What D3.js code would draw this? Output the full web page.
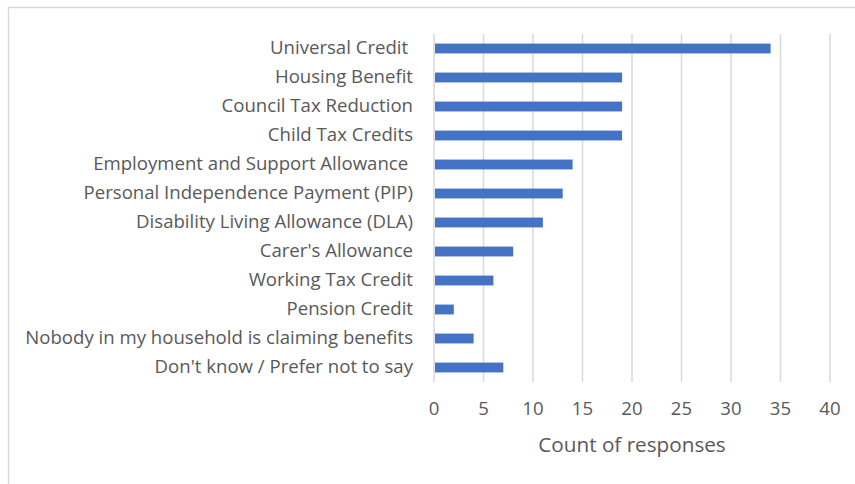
<!DOCTYPE html>
<html>
<head>
<meta charset="utf-8">
<script src="https://cdn.jsdelivr.net/npm/d3@7"></script>
<style>
  html, body { margin: 0; padding: 0; background: #fff; }
  svg { display: block; }
  text { font-family: "Open Sans", sans-serif; fill: #595959; }
</style>
</head>
<body>
<svg id="chart" width="855" height="484"></svg>
<script>
// Benefits claimed in the household (count of responses)
const categories = [
  "Universal Credit ",
  "Housing Benefit",
  "Council Tax Reduction",
  "Child Tax Credits",
  "Employment and Support Allowance ",
  "Personal Independence Payment (PIP)",
  "Disability Living Allowance (DLA)",
  "Carer's Allowance",
  "Working Tax Credit",
  "Pension Credit",
  "Nobody in my household is claiming benefits",
  "Don't know / Prefer not to say"
];
const counts = [34, 19, 19, 19, 14, 13, 11, 8, 6, 2, 4, 7];
const tickValues = [0, 5, 10, 15, 20, 25, 30, 35, 40];
const axisTitle = "Count of responses";

const svg = d3.select("#chart");

// chart frame
svg.append("rect")
  .attr("x", 8.5).attr("y", 7.5)
  .attr("width", 900).attr("height", 600)
  .attr("fill", "none").attr("stroke", "#d9d9d9").attr("stroke-width", 1.5);

const plot = { left: 434, right: 830, top: 34, bottom: 382 };

const x = d3.scaleLinear().domain([0, 40]).range([plot.left, plot.right]);
const y = d3.scaleBand().domain(categories).range([plot.top, plot.bottom]).paddingInner(0.66).paddingOuter(0.33);

// vertical gridlines
svg.append("g")
  .selectAll("line")
  .data(tickValues)
  .join("line")
  .attr("x1", d => x(d)).attr("x2", d => x(d))
  .attr("y1", plot.top).attr("y2", plot.bottom)
  .attr("stroke", "#d9d9d9").attr("stroke-width", 1.5);

// bars
svg.append("g")
  .selectAll("rect")
  .data(counts)
  .join("rect")
  .attr("x", x(0) + 1)
  .attr("y", (d, i) => y(categories[i]))
  .attr("width", d => x(d) - x(0) - 1)
  .attr("height", y.bandwidth())
  .attr("fill", "#4472c4");

// category labels
svg.append("g")
  .selectAll("text")
  .data(categories)
  .join("text")
  .attr("x", 413)
  .attr("y", d => y(d) + y.bandwidth() / 2)
  .attr("dy", "0.3em")
  .attr("text-anchor", "end")
  .style("white-space", "pre")
  .style("font-size", "18.6px")
  .text(d => d);

// value axis tick labels
svg.append("g")
  .selectAll("text")
  .data(tickValues)
  .join("text")
  .attr("x", d => x(d))
  .attr("y", 408)
  .attr("dy", "0.35em")
  .attr("text-anchor", "middle")
  .style("font-size", "18.6px")
  .text(d => d);

// axis title
svg.append("text")
  .attr("x", (plot.left + plot.right) / 2)
  .attr("y", 445)
  .attr("dy", "0.35em")
  .attr("text-anchor", "middle")
  .style("font-size", "20.7px")
  .text(axisTitle);
</script>
</body>
</html>
